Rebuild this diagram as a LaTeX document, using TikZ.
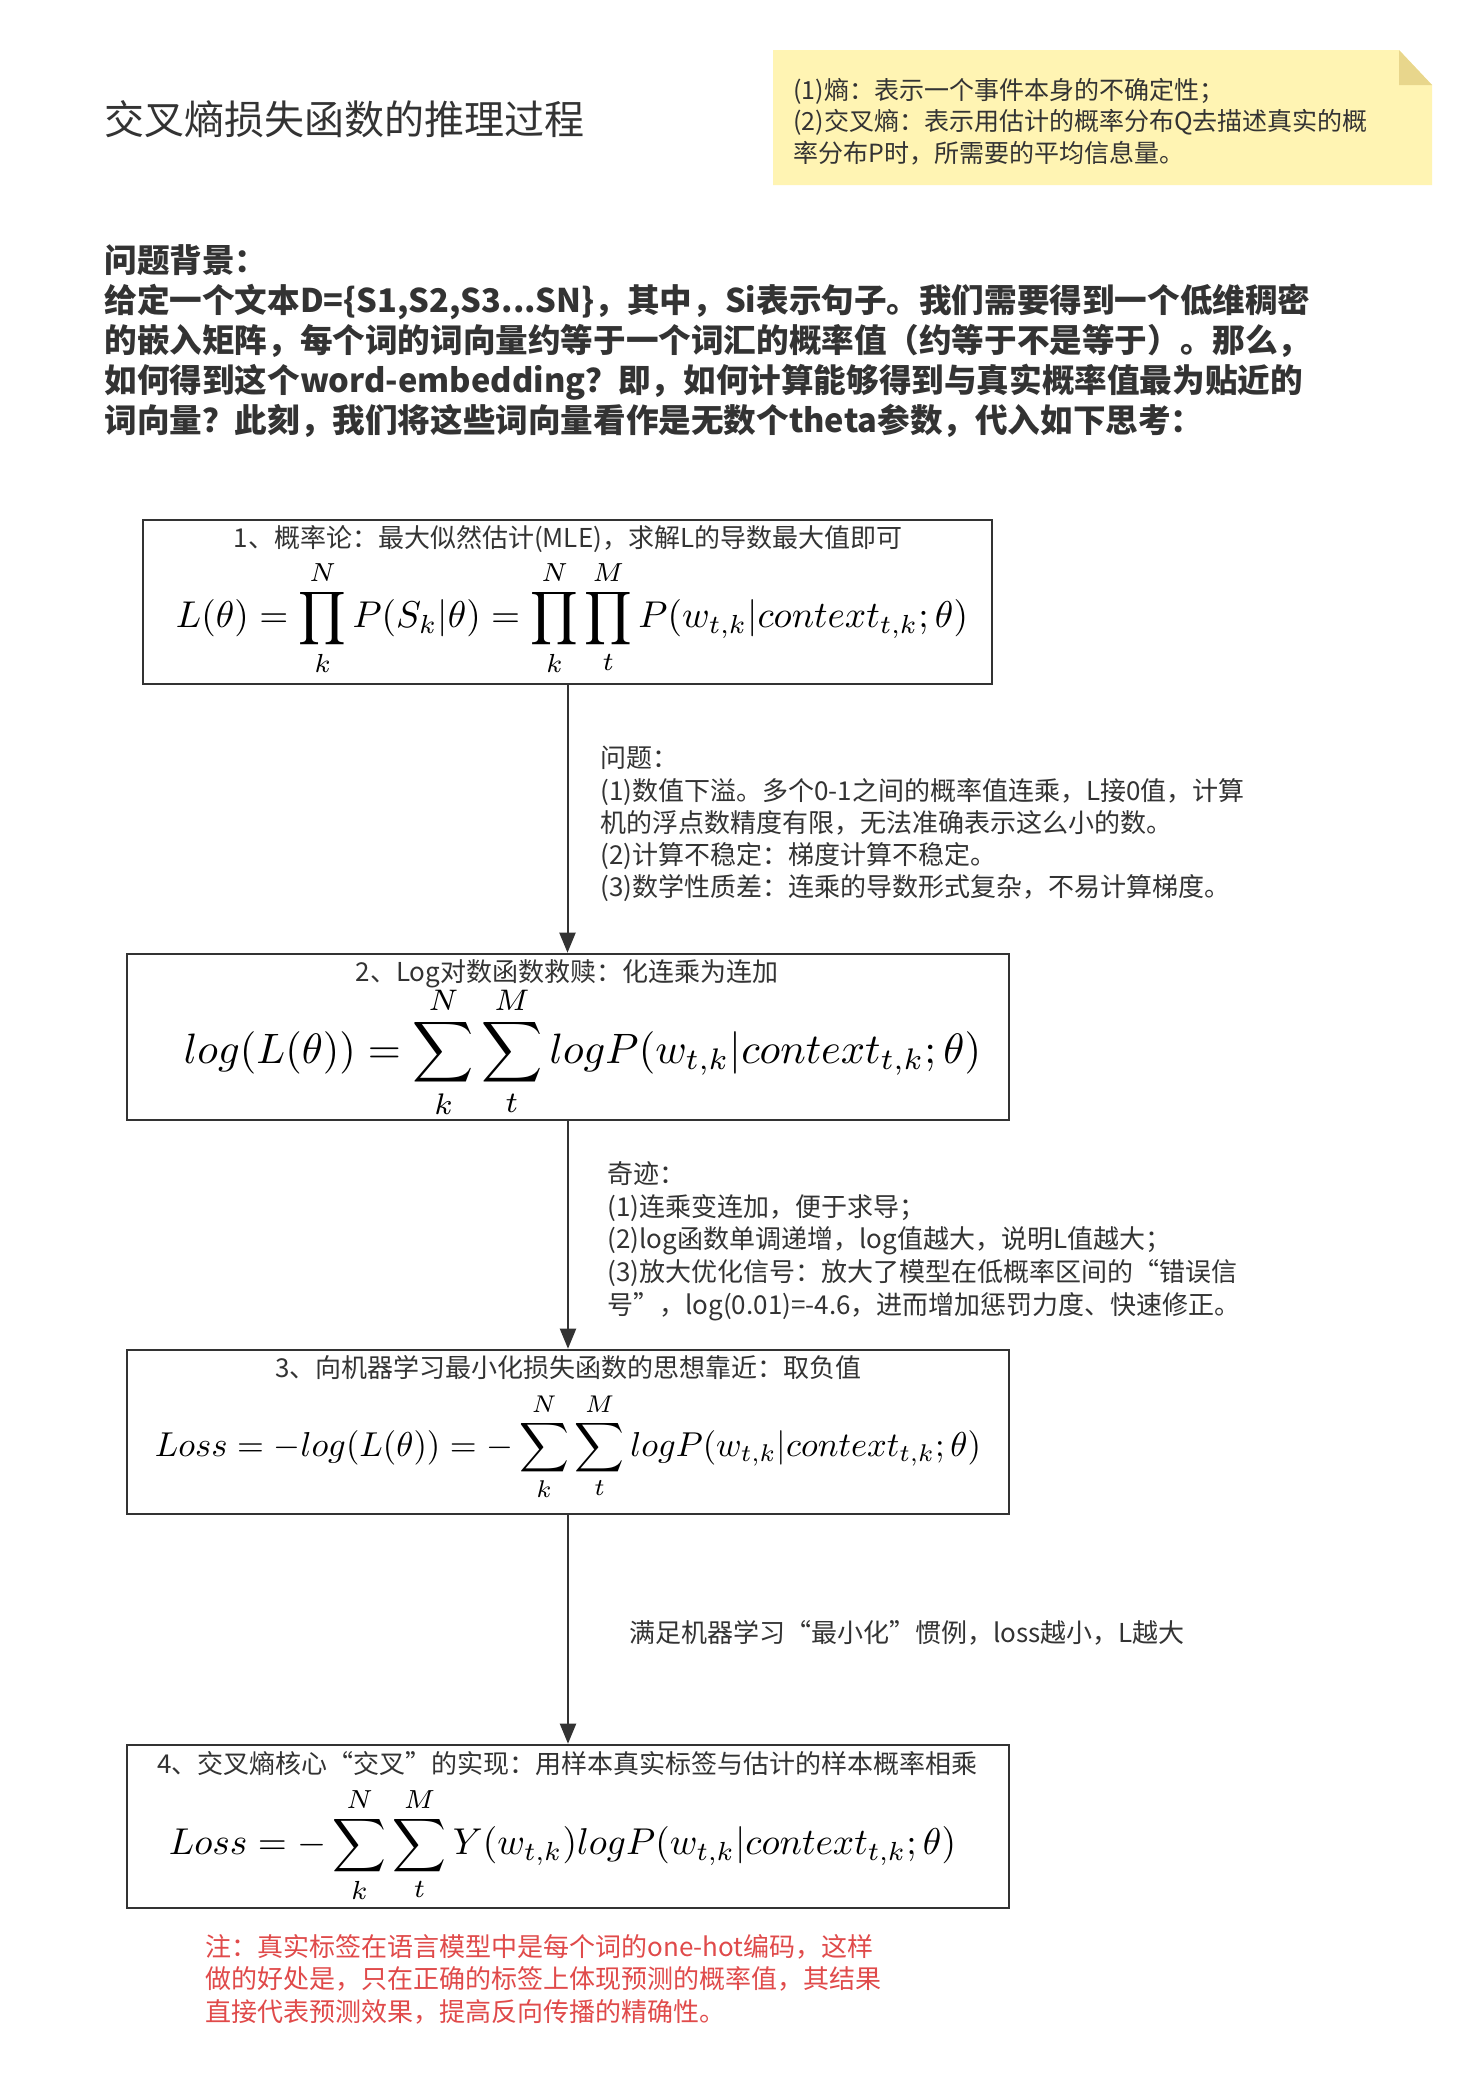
\documentclass[tikz,border=0pt]{standalone}
\usepackage[no-math]{fontspec}
\setmainfont{Noto Sans CJK SC}
\usepackage{graphicx}
\usetikzlibrary{arrows.meta}
\definecolor{ink}{HTML}{333333}
\definecolor{notefill}{HTML}{FFF4B3}
\definecolor{notefold}{HTML}{E8D68C}
\definecolor{notered}{HTML}{E04A4A}
\begin{document}
\begin{tikzpicture}[x=0.5pt,y=-0.5pt,
  box/.style={draw=ink, line width=1.3pt, minimum width=441pt, minimum height=82pt, inner sep=0},
  ttl/.style={text=ink, font=\fontsize{13}{16}\selectfont, inner sep=0},
  para/.style={text=ink, align=left, anchor=north west, inner sep=0},
  fml/.style={text=black, inner sep=0},
  arr/.style={draw=ink, line width=1pt, -{Triangle[width=8pt,length=10pt]}}]
\fill[white] (0,0) rectangle (1482,2073);
\useasboundingbox (0,0) rectangle (1482,2073);

% title
\node[text=ink, anchor=west, inner sep=0, font=\fontsize{20}{24}\selectfont] (title) at (104,119) {交叉熵损失函数的推理过程};

% sticky note
\fill[notefill] (773,50) -- (1399,50) -- (1432,85) -- (1432,185) -- (773,185) -- cycle;
\fill[notefold] (1399,50) -- (1399,85) -- (1432,85) -- cycle;
\node[para, font=\fontsize{12.5}{15.75}\selectfont] (note) at (793,77.5) {(1)熵：表示一个事件本身的不确定性；\\(2)交叉熵：表示用估计的概率分布Q去描述真实的概\\率分布P时，所需要的平均信息量。};

% background
\node[para, font=\fontsize{16.3}{20}\selectfont\bfseries] (bg) at (104,244) {问题背景：\\给定一个文本D=\{S1,S2,S3...SN\}，其中，Si表示句子。我们需要得到一个低维稠密\\的嵌入矩阵，每个词的词向量约等于一个词汇的概率值（约等于不是等于）。那么，\\如何得到这个word-embedding？即，如何计算能够得到与真实概率值最为贴近的\\词向量？此刻，我们将这些词向量看作是无数个theta参数，代入如下思考：};

% boxes
\node[box, minimum width=424.5pt, minimum height=82pt] (b1) at (567.5,602) {};
\node[box, minimum height=83pt] (b2) at (568,1037) {};
\node[box, minimum height=82pt] (b3) at (568,1432) {};
\node[box, minimum height=81.5pt] (b4) at (568,1826.5) {};

\node[ttl] (t1) at (568,539) {1、概率论：最大似然估计(MLE)，求解L的导数最大值即可};
\node[ttl] (t2) at (567,974) {2、Log对数函数救赎：化连乘为连加};
\node[ttl] (t3) at (568.5,1368) {3、向机器学习最小化损失函数的思想靠近：取负值};
\node[ttl] (t4) at (567.5,1764) {4、交叉熵核心“交叉”的实现：用样本真实标签与估计的样本概率相乘};

\node[fml] (f1) at (572,618) {\resizebox{396pt}{!}{$\displaystyle L(\theta)=\prod_{k}^{N}P(S_k|\theta)=\prod_{k}^{N}\prod_{t}^{M}P(w_{t,k}|context_{t,k};\theta)$}};
\node[fml] (f2) at (582.5,1052) {\resizebox{398.5pt}{!}{$\displaystyle log(L(\theta))=\sum_{k}^{N}\sum_{t}^{M}logP(w_{t,k}|context_{t,k};\theta)$}};
\node[fml] (f3) at (568,1447) {\resizebox{413pt}{!}{$\displaystyle Loss=-log(L(\theta))=-\sum_{k}^{N}\sum_{t}^{M}logP(w_{t,k}|context_{t,k};\theta)$}};
\node[fml] (f4) at (562.5,1845) {\resizebox{393.5pt}{!}{$\displaystyle Loss=-\sum_{k}^{N}\sum_{t}^{M}Y(w_{t,k})logP(w_{t,k}|context_{t,k};\theta)$}};

% arrows
\draw[arr] (b1.south) -- (b1.south |- b2.north);
\draw[arr] (b2.south) -- (b3.north);
\draw[arr] (b3.south) -- (b4.north);

% edge labels
\node[para, font=\fontsize{13}{16.1}\selectfont] (e1) at (600,746) {问题：\\(1)数值下溢。多个0-1之间的概率值连乘，L接0值，计算\\机的浮点数精度有限，无法准确表示这么小的数。\\(2)计算不稳定：梯度计算不稳定。\\(3)数学性质差：连乘的导数形式复杂，不易计算梯度。};
\node[para, font=\fontsize{13}{16.4}\selectfont] (e2) at (607,1161) {奇迹：\\(1)连乘变连加，便于求导；\\(2)log函数单调递增，log值越大，说明L值越大；\\(3)放大优化信号：放大了模型在低概率区间的“错误信\\号”，log(0.01)=-4.6，进而增加惩罚力度、快速修正。};
\node[text=ink, anchor=west, inner sep=0, font=\fontsize{13}{16}\selectfont] (e3) at (629,1633) {满足机器学习“最小化”惯例，loss越小，L越大};

% red note
\node[para, text=notered, font=\fontsize{13}{16.25}\selectfont] (red) at (205,1934) {注：真实标签在语言模型中是每个词的one-hot编码，这样\\做的好处是，只在正确的标签上体现预测的概率值，其结果\\直接代表预测效果，提高反向传播的精确性。};
\end{tikzpicture}
\end{document}
